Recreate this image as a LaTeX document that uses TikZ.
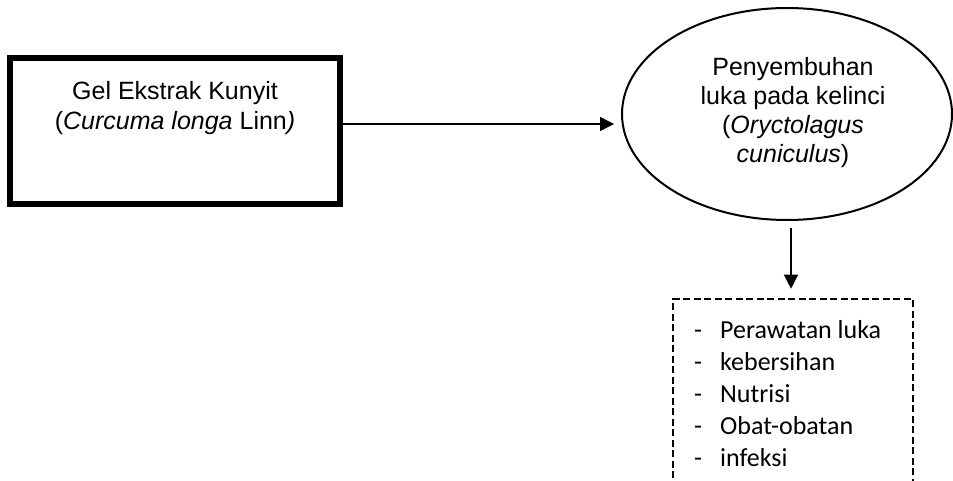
\documentclass[tikz,border=0pt]{standalone}
\usepackage{fontspec}
\setmainfont{Liberation Sans}
\newfontfamily\calfont{Carlito}
\usetikzlibrary{arrows.meta,shapes.geometric}
\begin{document}
\begin{tikzpicture}[x=1pt,y=-1pt,
  arr/.style={line width=1.4pt,-{Triangle[length=14pt,width=14pt]}},
  txt/.style={inner sep=0pt,align=center,font=\fontsize{25}{30}\selectfont}]
\useasboundingbox (0,0) rectangle (953,481);
\clip (0,0) rectangle (953,481);
% box
\node[draw,line width=6pt,minimum width=330pt,minimum height=146pt,inner sep=0pt] (box) at (175,131) {};
\node[txt] (boxtxt) at (175,108.5) {Gel Ekstrak Kunyit\\(\textit{Curcuma longa} Linn\textit{)}};
% ellipse
\node[draw,ellipse,line width=2pt,minimum width=330pt,minimum height=212pt,inner sep=0pt] (ell) at (787,114) {};
\node[txt,font=\fontsize{25}{29}\selectfont] (elltxt) at (793,113) {Penyembuhan\\luka pada kelinci\\(\textit{Oryctolagus}\\\textit{cuniculus})};
% dashed box
\node[draw,line width=2.6pt,dash pattern=on 7pt off 3.5pt,minimum width=240pt,minimum height=230pt,inner sep=0pt] (list) at (793,414) {};
\node[anchor=north west,inner sep=0pt,font=\calfont\fontsize{26}{32}\selectfont] (listtxt) at (694,315.6)
  {\begin{tabular}{@{}l@{\hspace{18pt}}l@{}}
  - & Perawatan luka\\
  - & kebersihan\\
  - & Nutrisi\\
  - & Obat-obatan\\
  - & infeksi
  \end{tabular}};
% connectors
\coordinate (a1) at (box.east |- 0,124);
\coordinate (a2) at (ell.west |- 0,124);
\draw[arr,shorten >=7pt] (a1) -- (a2);
\coordinate (b1) at (791,0);
\draw[arr,shorten <=7pt,shorten >=9pt] (ell.south -| b1) -- (list.north -| b1);
\end{tikzpicture}
\end{document}
